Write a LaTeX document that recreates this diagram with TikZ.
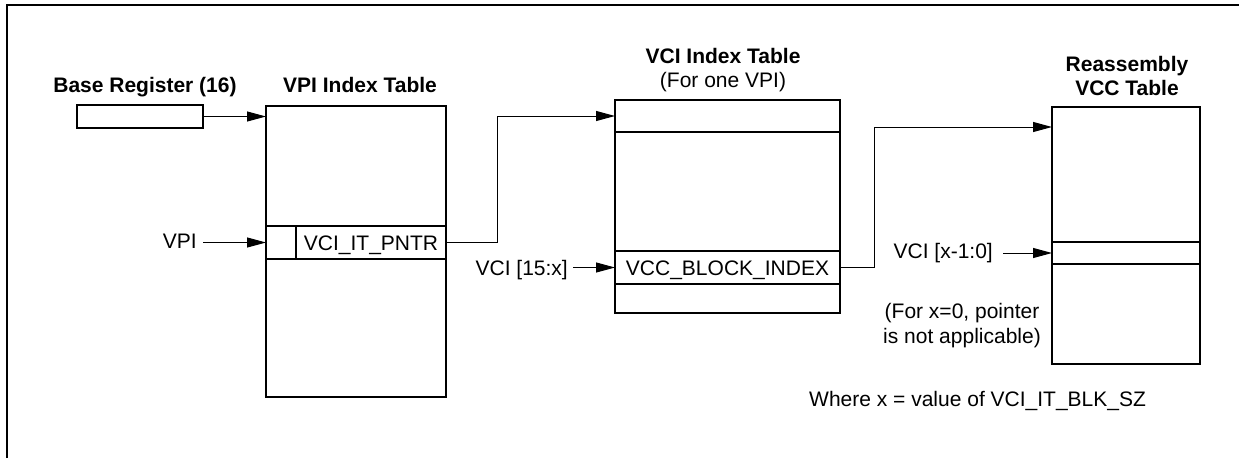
\documentclass[tikz,border=0pt]{standalone}
\usepackage{fontspec}
\setmainfont{Liberation Sans}
\usetikzlibrary{arrows.meta}
\tikzset{
  tbl/.style={draw,line width=2pt,inner sep=0pt,outer sep=0pt},
  cell/.style={draw,line width=1.2pt,inner sep=0pt,outer sep=0pt,text height=15pt,text depth=0pt},
  lbl/.style={inner sep=0pt,anchor=base},
  inlbl/.style={inner sep=0pt,inner xsep=6pt,anchor=base east},
  hdr/.style={inner sep=0pt,anchor=base,font=\bfseries\fontsize{21}{25}\selectfont},
  arr/.style={-{Triangle[length=19pt,width=10pt]},line width=1pt},
}
\begin{document}
\begin{tikzpicture}[x=1pt,y=-1pt,font=\fontsize{21}{25}\selectfont]
\useasboundingbox (0,0) rectangle (1239,458);
\draw[line width=1.5pt] (7,458) -- (7,5) -- (1239,5);
% tables
\node[tbl,minimum width=126pt,minimum height=23pt] (basereg) at (140,116.5) {};
\node[tbl,minimum width=180pt,minimum height=291pt] (vpitab) at (356,251.5) {};
\node[cell,minimum width=30pt,minimum height=33pt] (vpislot) at (281,242.5) {};
\node[cell,minimum width=150pt,minimum height=33pt] (pntr) at (371,242.5) {VCI\_IT\_PNTR};
\node[tbl,minimum width=225pt,minimum height=213pt] (vcitab) at (727.5,206.5) {};
\node[cell,minimum width=225pt,minimum height=32pt] (vcitop) at (727.5,116) {};
\node[cell,minimum width=225pt,minimum height=33pt] (blkidx) at (727.5,267.5) {VCC\_BLOCK\_INDEX};
\node[tbl,minimum width=148pt,minimum height=257pt] (vcctab) at (1126,235.5) {};
\node[cell,line width=2pt,minimum width=148pt,minimum height=22pt] (vccrow) at (1126,253) {};
\path (vcctab.north west) ++(0,20) coordinate (vcctop);
% titles
\node[hdr] (basehdr) at (145,92) {Base Register (16)};
\node[hdr] (vpihdr) at (360,92) {VPI Index Table};
\node[hdr] (vcihdr) at (723,63) {VCI Index Table};
\node[lbl] (vcisub) at (723,87) {(For one VPI)};
\node[hdr] (vcchdr) at (1127,71) {Reassembly};
\node[hdr] (vcchdrb) at (1127,95) {VCC Table};
% labels
\node[inlbl] (vpilbl) at (203,248) {VPI};
\node[inlbl,inner xsep=5pt] (vcilbl) at (573,275) {VCI [15:x]};
\node[inlbl,inner xsep=10pt] (vcclbl) at (1003,258) {VCI [x-1:0]};
\node[lbl] (notea) at (962,318) {(For x=0, pointer};
\node[lbl] (noteb) at (962,343) {is not applicable)};
\node[lbl,anchor=base west] (where) at (809,406) {Where x = value of VCI\_IT\_BLK\_SZ};
% arrows
\draw[arr] (basereg.east) -- (basereg.east -| vpitab.west);
\draw[arr] (vpilbl.east |- vpislot.west) -- (vpislot.west);
\draw[arr] (pntr.east) -- ++(51,0) |- (vcitop.west);
\draw[arr] (vcilbl.east |- blkidx.west) -- (blkidx.west);
\draw[arr] (blkidx.east) -- ++(34,0) |- (vcctop);
\draw[arr] (vcclbl.east |- vccrow.west) -- (vccrow.west);
\end{tikzpicture}
\end{document}
